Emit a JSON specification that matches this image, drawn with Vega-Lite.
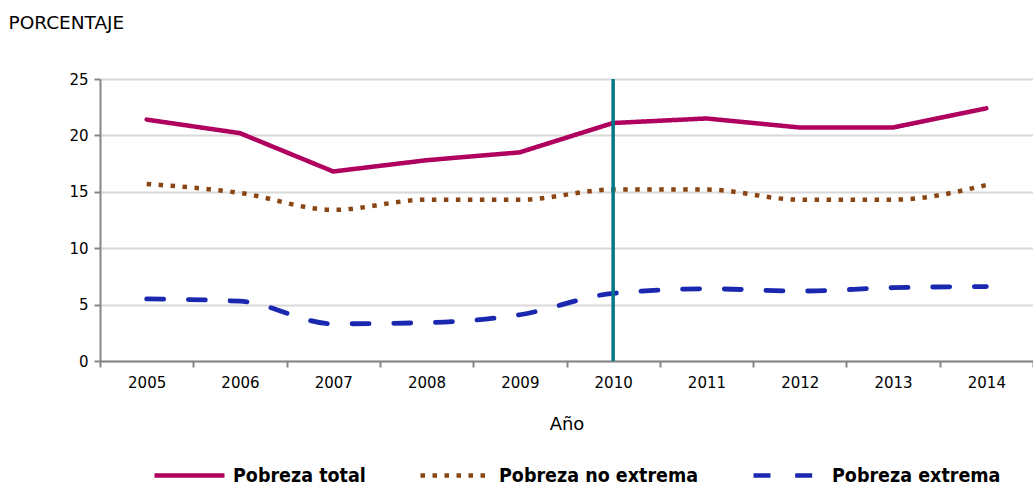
{
  "$schema": "https://vega.github.io/schema/vega-lite/v6.json",
  "autosize": "none",
  "width": 933,
  "height": 282,
  "padding": {"left": 100, "top": 79, "right": 0, "bottom": 128},
  "background": "white",
  "config": {
    "view": {"stroke": null},
    "font": "DejaVu Sans",
    "axis": {
      "labelFont": "DejaVu Sans",
      "titleFont": "DejaVu Sans",
      "labelColor": "#000000",
      "titleColor": "#000000",
      "domainColor": "#868686",
      "domainWidth": 2,
      "tickColor": "#868686",
      "tickWidth": 2,
      "tickSize": 6
    }
  },
  "data": {
    "values": [
      {"year": "2005", "serie": "Pobreza total", "value": 21.4},
      {"year": "2006", "serie": "Pobreza total", "value": 20.2},
      {"year": "2007", "serie": "Pobreza total", "value": 16.8},
      {"year": "2008", "serie": "Pobreza total", "value": 17.8},
      {"year": "2009", "serie": "Pobreza total", "value": 18.5},
      {"year": "2010", "serie": "Pobreza total", "value": 21.1},
      {"year": "2011", "serie": "Pobreza total", "value": 21.5},
      {"year": "2012", "serie": "Pobreza total", "value": 20.7},
      {"year": "2013", "serie": "Pobreza total", "value": 20.7},
      {"year": "2014", "serie": "Pobreza total", "value": 22.4},
      {"year": "2005", "serie": "Pobreza no extrema", "value": 15.7},
      {"year": "2006", "serie": "Pobreza no extrema", "value": 14.9},
      {"year": "2007", "serie": "Pobreza no extrema", "value": 13.4},
      {"year": "2008", "serie": "Pobreza no extrema", "value": 14.3},
      {"year": "2009", "serie": "Pobreza no extrema", "value": 14.3},
      {"year": "2010", "serie": "Pobreza no extrema", "value": 15.2},
      {"year": "2011", "serie": "Pobreza no extrema", "value": 15.2},
      {"year": "2012", "serie": "Pobreza no extrema", "value": 14.3},
      {"year": "2013", "serie": "Pobreza no extrema", "value": 14.3},
      {"year": "2014", "serie": "Pobreza no extrema", "value": 15.6},
      {"year": "2005", "serie": "Pobreza extrema", "value": 5.5},
      {"year": "2006", "serie": "Pobreza extrema", "value": 5.3},
      {"year": "2007", "serie": "Pobreza extrema", "value": 3.3},
      {"year": "2008", "serie": "Pobreza extrema", "value": 3.4},
      {"year": "2009", "serie": "Pobreza extrema", "value": 4.1},
      {"year": "2010", "serie": "Pobreza extrema", "value": 6.0},
      {"year": "2011", "serie": "Pobreza extrema", "value": 6.4},
      {"year": "2012", "serie": "Pobreza extrema", "value": 6.2},
      {"year": "2013", "serie": "Pobreza extrema", "value": 6.5},
      {"year": "2014", "serie": "Pobreza extrema", "value": 6.6}
    ]
  },
  "encoding": {
    "x": {
      "field": "year", "type": "ordinal",
      "scale": {"type": "band", "paddingInner": 0, "paddingOuter": 0},
      "axis": {
        "title": "Año", "titleFontSize": 18, "titleFontWeight": "normal", "titlePadding": 25,
        "labelAngle": 0, "labelFontSize": 15, "labelPadding": 8,
        "tickBand": "extent", "grid": false
      }
    },
    "y": {
      "field": "value", "type": "quantitative",
      "scale": {"domain": [0, 25], "nice": false},
      "axis": {
        "values": [0, 5, 10, 15, 20, 25],
        "grid": true, "gridColor": "#D9D9D9", "gridWidth": 2,
        "labelFontSize": 15, "labelPadding": 6,
        "title": "PORCENTAJE", "titleAngle": 0, "titleAlign": "left", "titleBaseline": "alphabetic",
        "titleX": -92, "titleY": -51, "titleFontSize": 18.5, "titleFontWeight": "normal"
      }
    },
    "color": {
      "field": "serie", "type": "nominal",
      "scale": {"domain": ["Pobreza total", "Pobreza no extrema", "Pobreza extrema"], "range": ["#B0005F", "#8B4513", "#1A28B0"]},
      "legend": {
        "title": null, "orient": "none", "direction": "horizontal",
        "legendX": 52, "legendY": 359,
        "symbolType": "stroke", "symbolSize": 4900, "symbolStrokeWidth": 4.5,
        "labelFontSize": 19.5, "labelFontWeight": "bold", "labelColor": "#000000",
        "labelFont": "DejaVu Sans Condensed, DejaVu Sans",
        "labelLimit": 400,
        "columnPadding": 45, "labelOffset": 6
      }
    },
    "strokeDash": {
      "field": "serie", "type": "nominal",
      "scale": {"domain": ["Pobreza total", "Pobreza no extrema", "Pobreza extrema"], "range": [[1, 0], [4.5, 7.5], [17, 24.7]]},
      "legend": null
    }
  },
  "layer": [
    {
      "transform": [{"filter": "datum.serie === 'Pobreza no extrema'"}],
      "mark": {"type": "line", "strokeWidth": 4.5, "strokeCap": "butt", "interpolate": "monotone"}
    },
    {
      "transform": [{"filter": "datum.serie === 'Pobreza extrema'"}],
      "mark": {"type": "line", "strokeWidth": 4.8, "strokeCap": "round", "interpolate": "monotone"}
    },
    {
      "transform": [{"filter": "datum.serie === 'Pobreza total'"}],
      "mark": {"type": "line", "strokeWidth": 4.5, "strokeCap": "round", "strokeJoin": "round"}
    },
    {
      "data": {"values": [{"year": "2010"}]},
      "mark": {"type": "rule", "color": "#00788A", "strokeWidth": 3.5},
      "encoding": {"y": null, "color": null, "strokeDash": null}
    }
  ]
}
